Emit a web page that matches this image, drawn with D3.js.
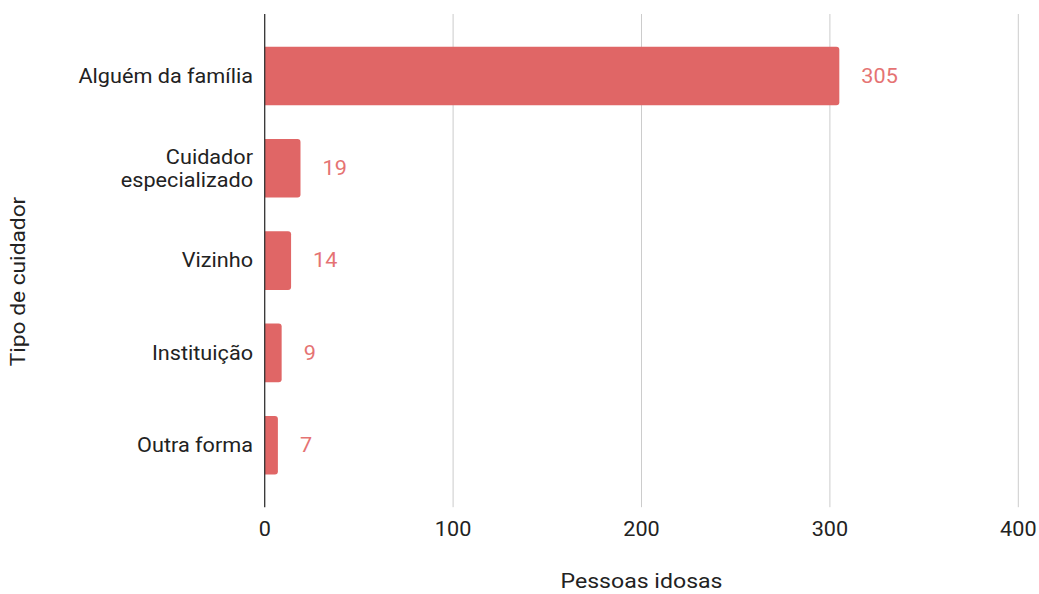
<!DOCTYPE html>
<html>
<head>
<meta charset="utf-8">
<script src="https://cdn.jsdelivr.net/npm/d3@7"></script>
<style>
  html, body { margin: 0; padding: 0; background: #fff; }
  svg { display: block; font-family: Roboto, "Noto Sans", sans-serif; }
</style>
</head>
<body>
<svg id="chart" width="1039" height="594"></svg>
<script>
const categories = ["Alguém da família", "Cuidador especializado", "Vizinho", "Instituição", "Outra forma"];
const categoryLines = [["Alguém da família"], ["Cuidador", "especializado"], ["Vizinho"], ["Instituição"], ["Outra forma"]];
const values = [305, 19, 14, 9, 7];
const xTicks = [0, 100, 200, 300, 400];
const xTitle = "Pessoas idosas";
const yTitle = "Tipo de cuidador";

const svg = d3.select("#chart");
const plotLeft = 264.7, plotRight = 1018.3, plotTop = 14, plotBottom = 507.2;
const stretch = 1.11;

const x = d3.scaleLinear().domain([0, 400]).range([plotLeft, plotRight]);
const y = d3.scaleBand().domain(categories).range([plotTop, plotBottom])
  .paddingInner(0.365).paddingOuter(0.354);

const barColor = "#e06666";
const textColor = "#222222";

function addText(parent, tx, ty, str, opts) {
  const rot = opts.rotate ? ` rotate(${opts.rotate})` : "";
  return parent.append("text")
    .attr("transform", `translate(${tx},${ty})${rot} scale(${stretch},1)`)
    .attr("dy", "0.35em")
    .attr("text-anchor", opts.anchor || "start")
    .attr("fill", opts.fill || textColor)
    .attr("font-size", opts.size || 19.5)
    .text(str);
}

// gridlines
svg.append("g").selectAll("line").data(xTicks.filter(d => d !== 0)).join("line")
  .attr("x1", d => x(d)).attr("x2", d => x(d))
  .attr("y1", plotTop).attr("y2", plotBottom)
  .attr("stroke", "#cccccc").attr("stroke-width", 1);

// bars (rounded right corners)
const r = 3;
svg.append("g").selectAll("path").data(values).join("path")
  .attr("d", (d, i) => {
    const x0 = x(0), x1 = x(d), y0 = y(categories[i]), h = y.bandwidth();
    return `M${x0},${y0} H${x1 - r} Q${x1},${y0} ${x1},${y0 + r} V${y0 + h - r} Q${x1},${y0 + h} ${x1 - r},${y0 + h} H${x0} Z`;
  })
  .attr("fill", barColor);

// axis line
svg.append("line")
  .attr("x1", x(0)).attr("x2", x(0)).attr("y1", plotTop).attr("y2", plotBottom)
  .attr("stroke", "#333333").attr("stroke-width", 1.3);

// value labels
const valG = svg.append("g");
values.forEach((v, i) => {
  addText(valG, x(v) + 22, y(categories[i]) + y.bandwidth() / 2, v, { fill: "#e57373" });
});

// category labels
const catG = svg.append("g");
categories.forEach((c, i) => {
  const lines = categoryLines[i];
  const cy = y(c) + y.bandwidth() / 2;
  const lh = 23;
  lines.forEach((ln, j) => {
    addText(catG, 253, cy + (j - (lines.length - 1) / 2) * lh, ln, { anchor: "end" });
  });
});

// x tick labels
const tickG = svg.append("g");
xTicks.forEach(t => addText(tickG, x(t), 529, t, { anchor: "middle" }));

// axis titles
addText(svg, (plotLeft + plotRight) / 2, 581, xTitle, { anchor: "middle", size: 20.8 });
addText(svg, 18, 281.5, yTitle, { anchor: "middle", size: 20.5, rotate: -90 });
</script>
</body>
</html>
